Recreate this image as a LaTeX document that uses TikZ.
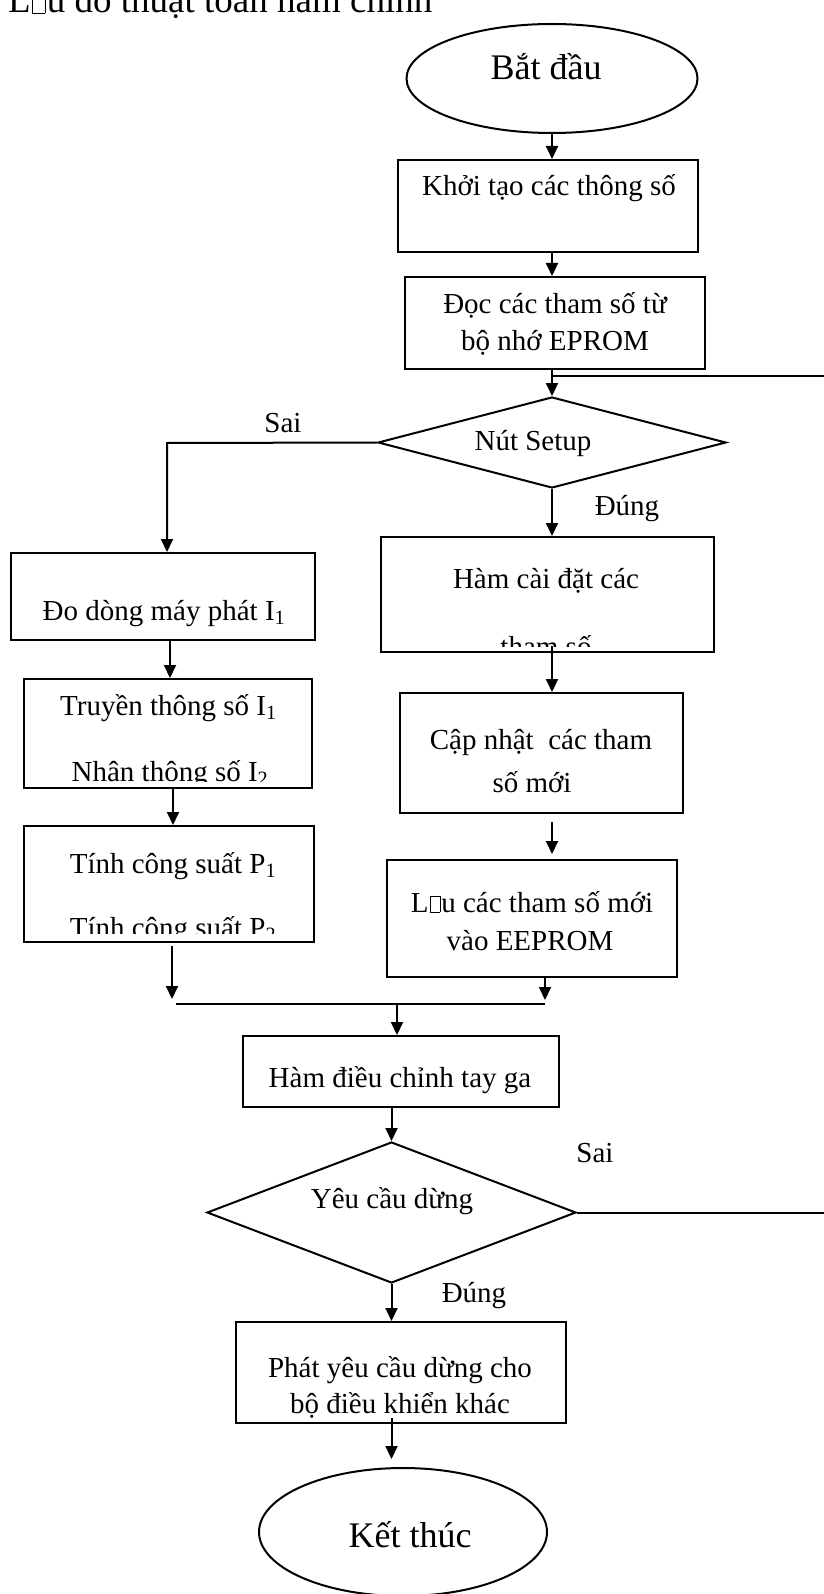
\documentclass[tikz,border=0pt]{standalone}
\usepackage{fontspec}
\setmainfont{Liberation Serif}
\usetikzlibrary{arrows.meta,shapes.geometric}
\newcommand{\nochar}{\hspace{0.04em}{\setlength{\fboxsep}{0pt}\setlength{\fboxrule}{0.5pt}\fbox{\rule{0pt}{0.55em}\hspace{0.33em}}}\hspace{0.04em}}

\begin{document}
\begin{tikzpicture}[
            x=1pt,y=-1pt,
            flowbox/.style={draw,rectangle,line width=2pt,inner sep=0pt},
            ovalbox/.style={draw,ellipse,line width=2pt,inner sep=0pt},
            choice/.style={draw,diamond,line width=2pt,inner sep=0pt},
            boxtext/.style={anchor=base,inner sep=0pt,font=\fontsize{29}{34}\selectfont},
            bigtext/.style={anchor=base,inner sep=0pt,font=\fontsize{36}{42}\selectfont},
            link/.style={line width=2pt},
            arrow/.style={-{Triangle[length=13pt,width=12pt]},line width=2pt}
        ]
            \useasboundingbox (0,0) rectangle (823,1594);
            \node[bigtext,anchor=base west,font=\fontsize{37}{42}\selectfont] (title) at (8,13) {L\nochar u đồ thuật toán hàm chính};

            \node[ovalbox,minimum width=291,minimum height=109] (start) at (552,78.5) {};
            \node[flowbox,minimum width=300,minimum height=92] (khoitao) at (548,206) {};
            \node[flowbox,minimum width=300,minimum height=92] (docthamso) at (555,323) {};
            \node[choice,minimum width=348,minimum height=91] (setup) at (552,442.5) {};
            \node[flowbox,minimum width=304,minimum height=87] (dodong) at (163,596.5) {};
            \node[flowbox,minimum width=288,minimum height=109] (truyen) at (168,733.5) {};
            \node[flowbox,minimum width=290,minimum height=116] (tinhcs) at (169,884) {};
            \node[flowbox,minimum width=333,minimum height=115] (hamcai) at (547.5,594.5) {};
            \node[flowbox,minimum width=283,minimum height=120] (capnhat) at (541.5,753) {};
            \node[flowbox,minimum width=290,minimum height=117] (luuthamso) at (532,918.5) {};
            \node[flowbox,minimum width=316,minimum height=71] (dieuchinh) at (401,1071.5) {};
            \node[choice,minimum width=369,minimum height=141] (yeucau) at (391.5,1212.5) {};
            \node[flowbox,minimum width=330,minimum height=101] (phatyc) at (401,1372.5) {};
            \node[ovalbox,minimum width=288,minimum height=128] (ketthuc) at (403,1532) {};

            \node[bigtext] (start-t) at (546,80) {Bắt đầu};
            \node[boxtext] (khoitao-t) at (549,196) {Khởi tạo các thông số};
            \node[boxtext] (docthamso-a) at (555,313) {Đọc các tham số từ};
            \node[boxtext] (docthamso-b) at (555,350) {bộ nhớ EPROM};
            \node[boxtext] (setup-t) at (533,450) {Nút Setup};
            \node[boxtext] (sai1) at (283,432) {Sai};
            \node[boxtext] (dung1) at (627,515) {Đúng};
            \node[boxtext] (dodong-t) at (164,620) {Đo dòng máy phát I\textsubscript{1}};
            \node[boxtext] (truyen-a) at (168.5,715) {Truyền thông số I\textsubscript{1}};
            \node[boxtext] (tinhcs-a) at (173,873) {Tính công suất P\textsubscript{1}};
            \node[boxtext] (hamcai-a) at (546,588) {Hàm cài đặt các};
            \node[boxtext] (capnhat-a) at (541,749) {Cập nhật\ \ các tham};
            \node[boxtext] (capnhat-b) at (532,792) {số mới};
            \node[boxtext] (luuthamso-a) at (532,912) {L\nochar u các tham số mới};
            \node[boxtext] (luuthamso-b) at (530,950) {vào EEPROM};
            \node[boxtext] (dieuchinh-t) at (400,1087) {Hàm điều chỉnh tay ga};
            \node[boxtext] (yeucau-t) at (392,1208) {Yêu cầu dừng};
            \node[boxtext] (sai2) at (595,1162) {Sai};
            \node[boxtext] (dung2) at (474,1302) {Đúng};
            \node[boxtext] (phatyc-a) at (400,1377) {Phát yêu cầu dừng cho};
            \node[bigtext] (ketthuc-t) at (410,1547) {Kết thúc};

            \begin{scope}
                \clip (truyen.north west) rectangle ([yshift=8pt]truyen.south east);
                \node[boxtext] (truyen-b) at (170,781) {Nhân thông số I\textsubscript{2}};
            \end{scope}
            \begin{scope}
                \clip (tinhcs.north west) rectangle ([yshift=10pt]tinhcs.south east);
                \node[boxtext] (tinhcs-b) at (173,937) {Tính công suất P\textsubscript{2}};
            \end{scope}
            \begin{scope}
                \clip (hamcai.north west) rectangle ([yshift=7pt]hamcai.south east);
                \node[boxtext] (hamcai-b) at (546,656) {tham số};
            \end{scope}
            \begin{scope}
                \clip (phatyc.north west) rectangle ([yshift=7pt]phatyc.south east);
                \node[boxtext] (phatyc-b) at (400,1413) {bộ điều khiển khác};
            \end{scope}

            \coordinate (loopL) at (552,376);
            \coordinate (loopR) at (832,376);
            \coordinate (saiL) at (167,443);
            \coordinate (mergeL) at (172,1004);
            \coordinate (mergeR) at (545,1004);

            \draw[arrow] (start.south) -- (start.south |- khoitao.north);
            \draw[arrow] (khoitao.south -| start.south) -- (docthamso.north -| start.south);
            \draw[arrow] (docthamso.south -| setup.north) -- (setup.north);
            \draw[link] (yeucau.east) -- (yeucau.east -| loopR) -- (loopR) -- (loopL);
            \draw[arrow] (setup.west) -- (saiL) -- (saiL |- dodong.north);
            \draw[arrow] (setup.south) -- (setup.south |- hamcai.north);
            \draw[arrow] ([yshift=7pt]hamcai.south -| setup.south) -- (capnhat.north -| setup.south);
            \draw[arrow,shorten <=8pt,shorten >=5pt] (capnhat.south -| setup.south) -- (luuthamso.north -| setup.south);
            \draw[arrow] ([xshift=7pt]dodong.south) -- ([xshift=7pt]dodong.south |- truyen.north);
            \draw[arrow] ([xshift=5pt]truyen.south) -- ([xshift=5pt]truyen.south |- tinhcs.north);
            \draw[arrow,shorten <=3pt,shorten >=5pt] (tinhcs.south -| mergeL) -- (mergeL);
            \draw[arrow,shorten >=4pt] (luuthamso.south -| mergeR) -- (mergeR);
            \draw[link] ([xshift=4pt]mergeL) -- (mergeR);
            \draw[arrow] ([xshift=-4pt]mergeL -| dieuchinh.north) -- ([xshift=-4pt]dieuchinh.north);
            \draw[arrow] (dieuchinh.south -| yeucau.north) -- (yeucau.north);
            \draw[arrow] (yeucau.south) -- (yeucau.south |- phatyc.north);
            \draw[arrow,shorten >=8pt] ([yshift=6pt]phatyc.south -| yeucau.south) -- (ketthuc.north -| yeucau.south);
        \end{tikzpicture}
\end{document}
